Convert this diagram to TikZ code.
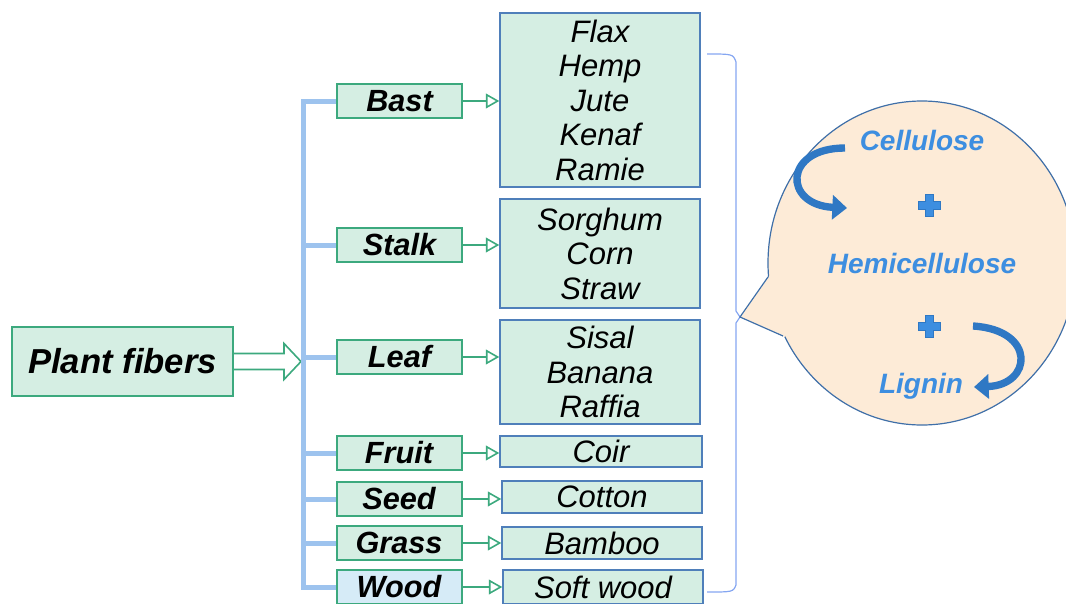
\documentclass[tikz,border=0pt]{standalone}
\usepackage{fontspec}
\setmainfont{Liberation Sans}
\usetikzlibrary{positioning,calc,arrows.meta}

\definecolor{mint}{HTML}{D5EEE3}
\definecolor{fibgreen}{HTML}{3CA97E}
\definecolor{itemblue}{HTML}{4F7FBA}
\definecolor{stemblue}{HTML}{9DC3EE}
\definecolor{woodfill}{HTML}{D6EBF7}
\definecolor{peach}{HTML}{FDEBD7}
\definecolor{bubbleline}{HTML}{3F6FA8}
\definecolor{compblue}{HTML}{3D8EE0}
\definecolor{arrowblue}{HTML}{2F78C4}

\begin{document}
\begin{tikzpicture}[x=0.75pt,y=-0.75pt]
        \tikzstyle{cat}=[draw=fibgreen, fill=mint, line width=1.5pt, minimum width=93.75pt, minimum height=25.5pt, inner sep=0pt, font=\fontsize{23}{26}\selectfont\bfseries\itshape]
        \tikzstyle{item}=[draw=itemblue, fill=mint, line width=1.1pt, minimum width=150pt, inner sep=0pt, align=center, font=\fontsize{23.25}{25.9}\selectfont\itshape]
        \tikzstyle{link}=[draw=fibgreen, line width=1.2pt, -{Triangle[open, length=10pt, width=11pt]}]
        \tikzstyle{stem}=[draw=stemblue, line width=3.75pt]
        \tikzstyle{comp}=[text=compblue, font=\fontsize{21}{24}\selectfont\bfseries\itshape]
        \tikzstyle{curlarrow}=[draw=arrowblue, line width=5.5pt, -{Triangle[length=11pt, width=18pt]}]

        \clip (0,0) rectangle (1066,603);

        \node[draw=fibgreen, fill=mint, line width=1.5pt, minimum width=165.75pt, minimum height=51.75pt, font=\fontsize{26}{30}\selectfont\bfseries\itshape] (pf) at (122.5,361.5) {Plant fibers};
        \draw[draw=fibgreen, fill=white, line width=1.2pt] ($(pf.east)+(0,-8)$) -- ++(50,0) -- ++(0,-10) -- ++(17,18) -- ++(-17,18) -- ++(0,-10) -- ++(-50,0);

        \node[cat] (bast)  at (399.5,101) {Bast};
        \node[cat] (stalk) at (399.5,245) {Stalk};
        \node[cat] (leaf)  at (399.5,357) {Leaf};
        \node[cat] (fruit) at (399,453) {Fruit};
        \node[cat] (seed)  at (399,499) {Seed};
        \node[cat] (grass) at (399,543) {Grass};
        \node[cat, fill=woodfill] (wood) at (399,587) {Wood};

        \coordinate (trunk) at (303,0);
        \draw[stem] (bast.west) -| (trunk |- wood) -- (wood.west);
        \foreach \n in {stalk,leaf,fruit,seed,grass}
            \draw[stem] (trunk |- \n) -- (\n.west);

        \node[item, minimum height=130.5pt] (bastl)  at (600,100)   {Flax\\Hemp\\Jute\\Kenaf\\Ramie};
        \node[item, minimum height=81.75pt] (stalkl) at (600,253.5) {Sorghum\\Corn\\Straw};
        \node[item, minimum height=78pt]    (leafl)  at (600,372)   {Sisal\\Banana\\Raffia};
        \node[item, minimum width=151.5pt, minimum height=23.25pt] (coirl) at (601,451.5) {Coir};
        \node[item, minimum height=24pt]    (cottonl) at (602,497)  {Cotton};
        \node[item, minimum height=24pt]    (bambool) at (602,543)  {Bamboo};
        \node[item, minimum height=25.5pt]  (softl)   at (603,587) {Soft wood};

        \foreach \a/\b in {bast/bastl, stalk/stalkl, leaf/leafl, fruit/coirl, seed/cottonl, grass/bambool, wood/softl}
            \draw[link] (\a.east) -- (\a.east -| \b.west);

        % brace
        \draw[draw=stemblue!85!blue, line width=0.9pt] (707,54) .. controls (733,54) .. (736,62) -- (736,311) -- (740,317) -- (736,323) -- (736,585) .. controls (733,592) .. (707,592);

        % bubble
        \filldraw[fill=peach, draw=bubbleline, line width=0.9pt] (922,263) ellipse [x radius=115.5pt, y radius=121.5pt];
        \fill[peach] (770,275) -- (741,317) -- (785,337) -- (800,300) -- cycle;
        \draw[bubbleline, line width=0.9pt] (768,277) -- (740,317) -- (783,336);

        \node[comp] (cell) at (922,140) {Cellulose};
        \node[comp] (hemi) at (922,263) {Hemicellulose};
        \node[comp] (lig)  at (921,386) {Lignin};

        \foreach \py in {205,326}
            \filldraw[fill=compblue, draw=arrowblue, line width=0.5pt] (929,\py) ++(-11,-4) -- ++(7,0) -- ++(0,-7) -- ++(8,0) -- ++(0,7) -- ++(7,0) -- ++(0,8) -- ++(-7,0) -- ++(0,7) -- ++(-8,0) -- ++(0,-7) -- ++(-7,0) -- cycle;

        \draw[curlarrow] (845,148) .. controls (783,148) and (783,205) .. (847,208);
        \draw[curlarrow] (973,326) .. controls (1037,330) and (1032,385) .. (974,387);
    \end{tikzpicture}
\end{document}
